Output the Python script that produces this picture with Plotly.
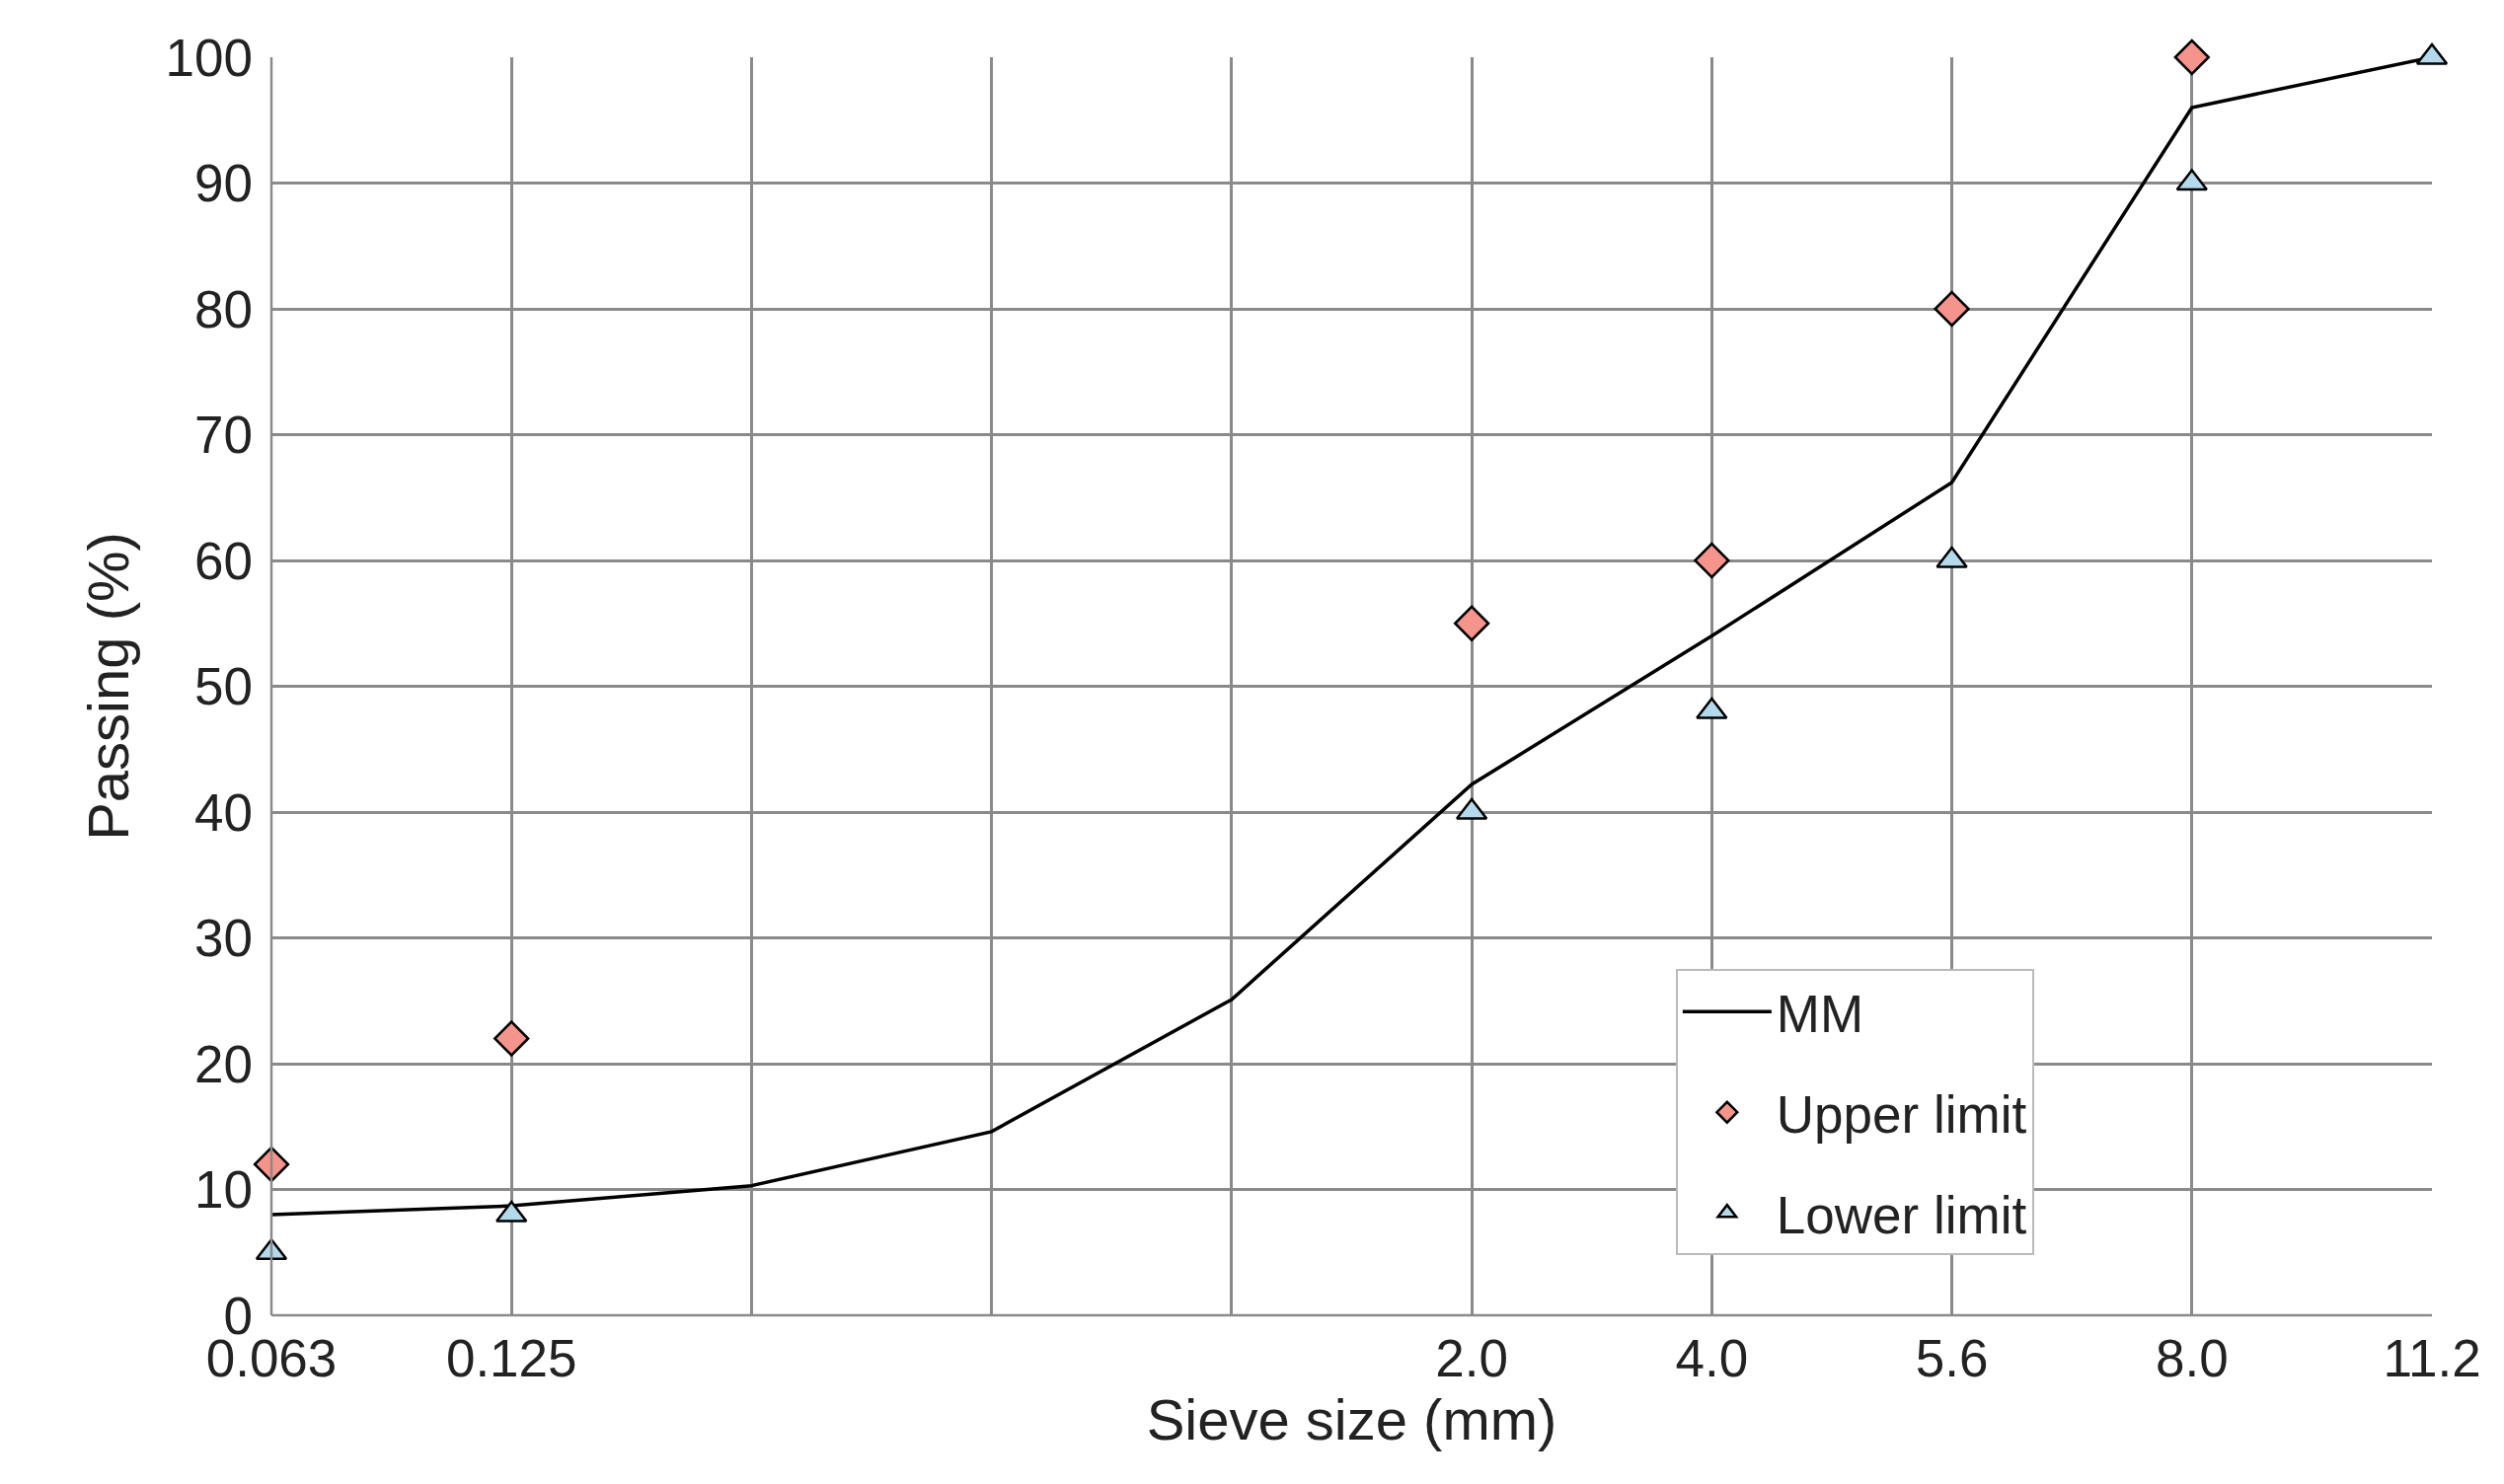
import plotly.graph_objects as go

sieve_labels = ["0.063", "0.125", "", "", "", "2.0", "4.0", "5.6", "8.0", "11.2"]
mm_passing = [8.0, 8.7, 10.3, 14.6, 25.1, 42.2, 54.0, 66.2, 96.0, 100.0]
upper_pos = [0, 1, 5, 6, 7, 8]
upper_limit = [12, 22, 55, 60, 80, 100]
lower_pos = [0, 1, 5, 6, 7, 8, 9]
lower_limit = [5, 8, 40, 48, 60, 90, 100]

pos = list(range(len(sieve_labels)))
font = "Liberation Sans, Arial, sans-serif"

fig = go.Figure()
fig.add_trace(go.Scatter(x=pos, y=mm_passing, mode="lines", name="MM", legendgroup="a",
                         line=dict(color="black", width=3.5), cliponaxis=False))
fig.add_trace(go.Scatter(x=upper_pos, y=upper_limit, mode="markers", name="Upper limit",
                         legendgroup="b", cliponaxis=False,
                         marker=dict(symbol="diamond", size=26, color="#f4948c",
                                     line=dict(color="black", width=2.5))))
fig.add_trace(go.Scatter(x=lower_pos, y=lower_limit, mode="markers", name="Lower limit",
                         legendgroup="c", cliponaxis=False,
                         marker=dict(symbol="triangle-up", size=26, color="#b4d8ec",
                                     line=dict(color="black", width=2.5))))

fig.update_layout(
    width=2537, height=1504, plot_bgcolor="white", paper_bgcolor="white",
    margin=dict(l=267, r=81, t=50, b=179),
    font=dict(family=font, size=53, color="#222"),
    showlegend=True,
    legend=dict(x=0.65, y=0.275, xanchor="left", yanchor="top",
                bordercolor="#bbb", borderwidth=2, bgcolor="white",
                font=dict(size=53), itemwidth=90, traceorder="grouped",
                tracegroupgap=30),
    xaxis=dict(range=[0, 9], tickvals=pos, ticktext=sieve_labels,
               showgrid=True, gridcolor="#8a8a8a", gridwidth=2.5,
               showline=False, zeroline=False,
               title=dict(text="Sieve size (mm)", standoff=0, font=dict(size=58)),
               ticks="", ticklabelstandoff=8),
    yaxis=dict(range=[0, 100], dtick=10, showgrid=True, gridcolor="#8a8a8a", gridwidth=2.5,
               showline=False, zeroline=False, ticklabelstandoff=18,
               title=dict(text="Passing (%)", standoff=18, font=dict(size=58)), ticks=""),
)
fig.add_shape(type="line", xref="paper", yref="paper", x0=0, x1=1, y0=0, y1=0,
              line=dict(color="#8a8a8a", width=2.5))
fig.add_shape(type="line", xref="paper", yref="paper", x0=0, x1=0, y0=0, y1=1,
              line=dict(color="#8a8a8a", width=2.5))
fig.write_html("out.html")
